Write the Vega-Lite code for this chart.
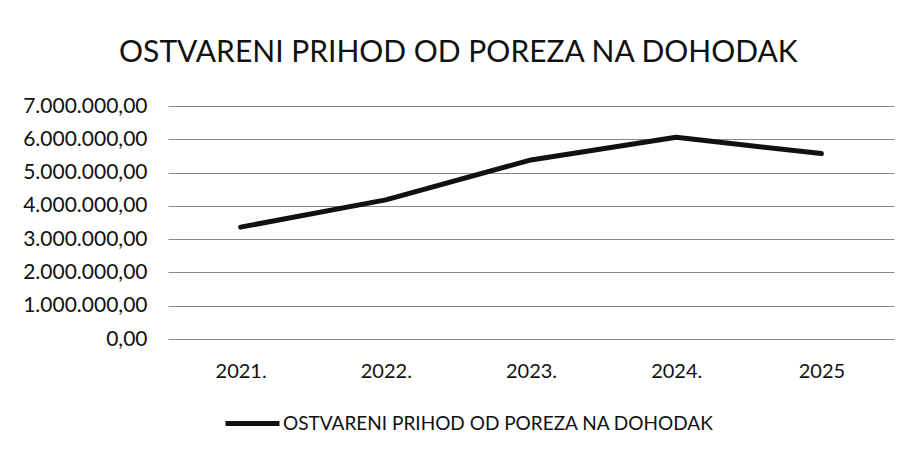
{
  "$schema": "https://vega.github.io/schema/vega-lite/v6.json",
  "autosize": {"type": "none"},
  "width": 726,
  "height": 233,
  "padding": {"left": 168, "top": 106, "right": 18, "bottom": 112},
  "background": "white",
  "config": {
    "locale": {"number": {"decimal": ",", "thousands": ".", "grouping": [3], "currency": ["", ""]}},
    "view": {"stroke": null},
    "font": "Lato"
  },
  "title": {
    "text": "OSTVARENI PRIHOD OD POREZA NA DOHODAK",
    "frame": "bounds",
    "anchor": "middle",
    "fontSize": 30,
    "fontWeight": "normal",
    "font": "Lato",
    "color": "#111",
    "offset": 27
  },
  "data": {
    "values": [
      {"year": "2021.", "value": 3360000, "series": "OSTVARENI PRIHOD OD POREZA NA DOHODAK"},
      {"year": "2022.", "value": 4180000, "series": "OSTVARENI PRIHOD OD POREZA NA DOHODAK"},
      {"year": "2023.", "value": 5380000, "series": "OSTVARENI PRIHOD OD POREZA NA DOHODAK"},
      {"year": "2024.", "value": 6060000, "series": "OSTVARENI PRIHOD OD POREZA NA DOHODAK"},
      {"year": "2025", "value": 5570000, "series": "OSTVARENI PRIHOD OD POREZA NA DOHODAK"}
    ]
  },
  "mark": {"type": "line", "strokeWidth": 5, "strokeCap": "round", "strokeJoin": "round"},
  "encoding": {
    "x": {
      "field": "year", "type": "ordinal", "sort": null,
      "scale": {"type": "point", "padding": 0.5},
      "axis": {"title": null, "labelAngle": 0, "labelFontSize": 20, "labelColor": "#111", "labelPadding": 22, "domain": false, "ticks": false, "grid": false, "labelFont": "Lato"}
    },
    "y": {
      "field": "value", "type": "quantitative",
      "scale": {"domain": [0, 7000000]},
      "axis": {"title": null, "values": [0, 1000000, 2000000, 3000000, 4000000, 5000000, 6000000, 7000000], "format": ",.2f", "labelFontSize": 21, "labelColor": "#111", "labelPadding": 21, "domain": false, "ticks": false, "grid": true, "gridColor": "#8a8a8a", "gridWidth": 1, "labelFont": "Lato"}
    },
    "color": {
      "field": "series", "type": "nominal",
      "scale": {"range": ["#111111"]},
      "legend": {"title": null, "orient": "none", "legendX": 55, "legendY": 288, "symbolType": "stroke", "symbolSize": 2916, "symbolStrokeWidth": 5, "labelFontSize": 19, "labelColor": "#111", "labelFont": "Lato", "labelOffset": 1, "labelLimit": 600}
    }
  }
}
